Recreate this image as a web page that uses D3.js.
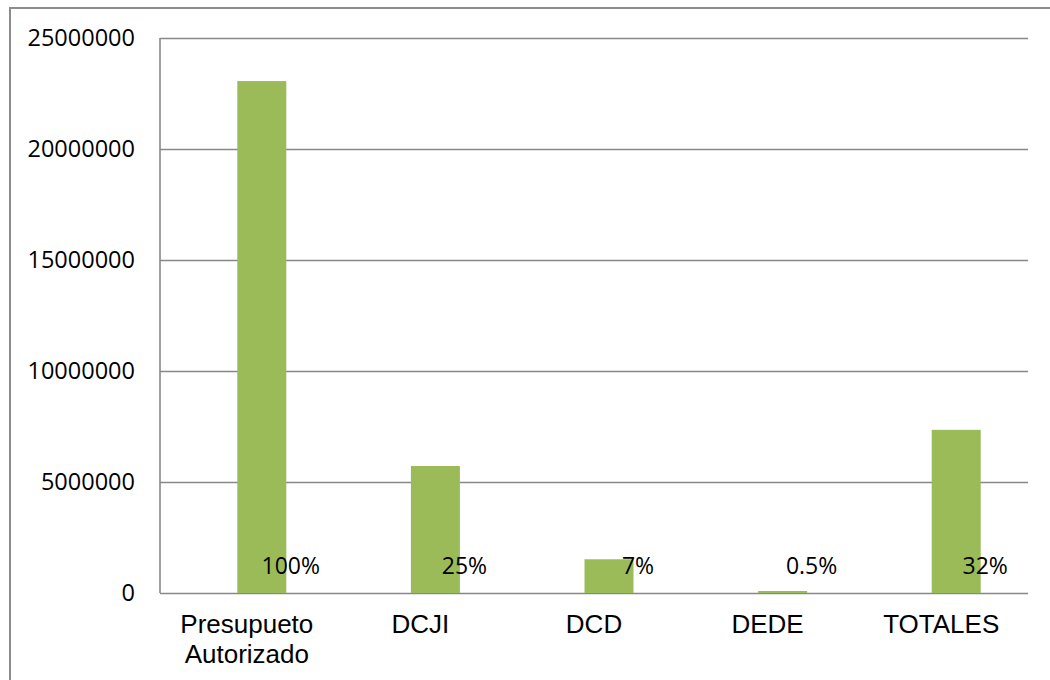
<!DOCTYPE html>
<html>
<head>
<meta charset="utf-8">
<script src="https://cdn.jsdelivr.net/npm/d3@7"></script>
<style>
  body { margin: 0; background: #fff; }
  .grid line { stroke: #888888; stroke-width: 1.6; }
  .grid path { display: none; }
  .grid text { font-family: "Open Sans", sans-serif; font-size: 23.5px; fill: #000; }
</style>
</head>
<body>
<div id="chart"></div>
<script>
// chart data
var categories = ["Presupueto Autorizado", "DCJI", "DCD", "DEDE", "TOTALES"];
var montos = [23060000, 5720000, 1520000, 90000, 7350000];
var porcentajes = ["100%", "25%", "7%", "0.5%", "32%"];
var yTicks = [0, 5000000, 10000000, 15000000, 20000000, 25000000];

var margin = {top: 38, right: 22, bottom: 87, left: 160},
    W = 1050, H = 680,
    width = W - margin.left - margin.right,
    height = H - margin.top - margin.bottom;

var svg = d3.select("#chart")
    .append("svg")
    .attr("width", W)
    .attr("height", H);

// outer chart frame (runs past the right and bottom edges)
svg.append("rect")
    .attr("x", 10)
    .attr("y", 8)
    .attr("width", W + 20)
    .attr("height", H + 20)
    .attr("fill", "none")
    .attr("stroke", "#8c8c8c")
    .attr("stroke-width", 2);

var g = svg.append("g")
    .attr("transform", "translate(" + margin.left + "," + margin.top + ")");

var x = d3.scaleBand()
    .domain(categories)
    .range([0, width]);

var y = d3.scaleLinear()
    .domain([0, 25000000])
    .range([height, 0]);

// gridlines + y tick labels
g.append("g")
    .attr("class", "grid")
    .call(d3.axisLeft(y)
        .tickValues(yTicks)
        .tickSize(-width)
        .tickPadding(25)
        .tickFormat(d3.format("d")));

// left axis line
g.append("line")
    .attr("x1", 0).attr("x2", 0)
    .attr("y1", 0).attr("y2", height)
    .attr("stroke", "#888888")
    .attr("stroke-width", 1.6);

var barW = 49;
var barOff = x.bandwidth() / 2 - 9.5;

// bars
g.append("g")
    .selectAll("rect")
    .data(categories)
    .enter()
    .append("rect")
    .attr("x", function (d) { return x(d) + barOff; })
    .attr("y", function (d, i) { return y(montos[i]); })
    .attr("width", barW)
    .attr("height", function (d, i) { return height - y(montos[i]); })
    .attr("fill", "#9bbb59");

// percentage labels
g.append("g")
    .selectAll("text")
    .data(categories)
    .enter()
    .append("text")
    .attr("x", function (d) { return x(d) + x.bandwidth() / 2 + 44; })
    .attr("y", height - 19)
    .attr("text-anchor", "middle")
    .style("font-family", "'Open Sans', sans-serif")
    .style("font-size", "23px")
    .text(function (d, i) { return porcentajes[i]; });

// category labels (wrapped on spaces)
var cat = g.append("g")
    .selectAll("text")
    .data(categories)
    .enter()
    .append("text")
    .attr("x", function (d) { return x(d) + x.bandwidth() / 2; })
    .attr("y", height + 40)
    .attr("text-anchor", "middle")
    .style("font-family", "'Liberation Sans', Arial, sans-serif")
    .style("font-size", "26px");

cat.each(function (d) {
    var t = d3.select(this);
    var cx = t.attr("x");
    d.split(" ").forEach(function (w, k) {
        t.append("tspan")
            .attr("x", cx)
            .attr("dy", k === 0 ? 0 : 30)
            .text(w);
    });
});
</script>
</body>
</html>
